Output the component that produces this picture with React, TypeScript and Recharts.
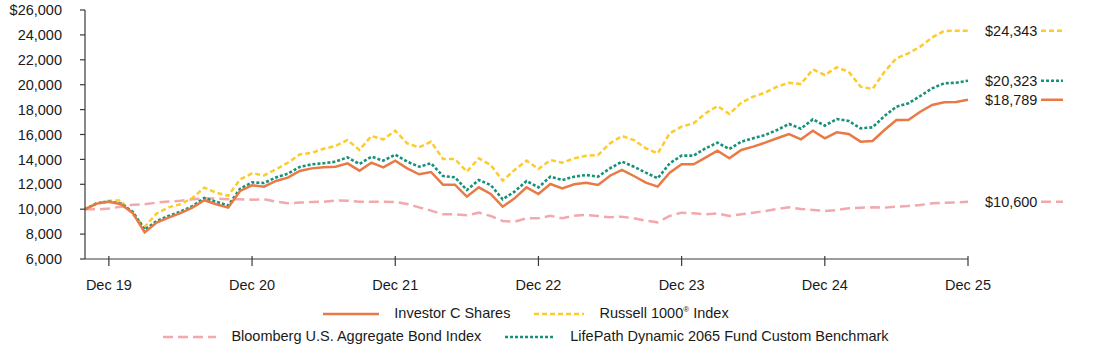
import { LineChart, Line, XAxis, YAxis, Legend } from "recharts";

const monthNames = ["Jan", "Feb", "Mar", "Apr", "May", "Jun", "Jul", "Aug", "Sep", "Oct", "Nov", "Dec"];

// Oct 19 .. Dec 25, monthly
const periods: string[] = [];
for (let i = 0; i < 75; i++) {
  periods.push(`${monthNames[(9 + i) % 12]} ${19 + Math.floor((9 + i) / 12)}`);
}

const tickLabels = ["Dec 19", "Dec 20", "Dec 21", "Dec 22", "Dec 23", "Dec 24", "Dec 25"];
const yTicks = [6000, 8000, 10000, 12000, 14000, 16000, 18000, 20000, 22000, 24000, 26000];

const investorC = [
  10000, 10450, 10600, 10400, 9700, 8130, 8930, 9330, 9680, 10130, 10720, 10400, 10130, 11470, 11920,
  11810, 12270, 12530, 13070, 13280, 13360, 13415, 13683, 13095, 13736, 13365, 13898, 13285, 12803, 12988,
  11970, 11970, 11006, 11757, 11221, 10203, 10873, 11757, 11221, 12024, 11676, 11997, 12130, 11944, 12690,
  13149, 12667, 12130, 11810, 12934, 13603, 13603, 14138, 14700, 14085, 14754, 15022, 15342, 15696, 16040,
  15610, 16309, 15696, 16178, 16040, 15424, 15478, 16361, 17165, 17165, 17830, 18370, 18584, 18610, 18789,
];

const russell1000 = [
  10000, 10480, 10680, 10700, 9600, 8590, 9650, 10150, 10400, 10900, 11730, 11330, 11070, 12400, 12880,
  12720, 13200, 13730, 14400, 14530, 14850, 15076, 15558, 14755, 15879, 15610, 16306, 15290, 14970, 15424,
  14032, 14032, 13015, 14085, 13550, 12290, 13150, 13900, 13229, 13952, 13736, 14085, 14300, 14353, 15290,
  15880, 15558, 14888, 14487, 16095, 16630, 16897, 17700, 18289, 17646, 18556, 19038, 19360, 19840, 20161,
  20056, 21236, 20779, 21397, 21045, 19840, 19654, 21045, 22120, 22522, 23053, 23806, 24313, 24340, 24343,
];

const bloombergAgg = [
  10000, 9990, 10050, 10200, 10350, 10400, 10530, 10620, 10670, 10800, 10880, 10850, 10800, 10800, 10760,
  10800, 10610, 10480, 10530, 10580, 10600, 10700, 10685, 10605, 10605, 10605, 10580, 10417, 10150, 9882,
  9590, 9590, 9510, 9722, 9454, 9052, 8998, 9267, 9267, 9480, 9267, 9480, 9534, 9454, 9347,
  9400, 9267, 9079, 8945, 9454, 9722, 9668, 9588, 9668, 9454, 9588, 9722, 9855, 10016, 10150,
  10016, 9936, 9855, 9936, 10070, 10123, 10150, 10123, 10203, 10257, 10337, 10471, 10525, 10550, 10600,
];

const lifePath2065 = [
  10000, 10480, 10620, 10450, 9800, 8350, 9050, 9450, 9800, 10250, 10900, 10600, 10300, 11650, 12150,
  12100, 12550, 12850, 13400, 13600, 13690, 13817, 14165, 13630, 14219, 13898, 14380, 13817, 13415, 13683,
  12667, 12560, 11542, 12345, 11944, 10793, 11408, 12265, 11757, 12613, 12345, 12613, 12747, 12613, 13285,
  13817, 13415, 12934, 12480, 13683, 14300, 14300, 14888, 15342, 14835, 15424, 15696, 15960, 16361, 16843,
  16470, 17220, 16710, 17245, 17085, 16496, 16575, 17486, 18235, 18504, 19092, 19710, 20110, 20160, 20323,
];

const data = periods.map((month, i) => ({
  month,
  investorC: investorC[i],
  russell: russell1000[i],
  agg: bloombergAgg[i],
  lifePath: lifePath2065[i],
}));

const FONT = "Arial, 'Liberation Sans', sans-serif";
const FS = 14.5;
const TEXT = "#1a1a1a";
const AXIS = "#3a3a3a";

const series = [
  { key: "investorC", name: "Investor C Shares", color: "#e97a45", dash: undefined as string | undefined, width: 2.5 },
  { key: "russell", name: "Russell 1000", sup: "®", suffix: " Index", color: "#fdcb2b", dash: "5 3", width: 2.5 },
  { key: "agg", name: "Bloomberg U.S. Aggregate Bond Index", color: "#f2a9ac", dash: "10 5", width: 2.5 },
  { key: "lifePath", name: "LifePath Dynamic 2065 Fund Custom Benchmark", color: "#17917a", dash: "3 2", width: 2.6 },
];

const fmt = (v: number) => v.toLocaleString("en-US");

const XTick = (props: any) => {
  const { x, y, payload } = props;
  return (
    <g>
      <line x1={x} x2={x} y1={y - 3} y2={y + 7} stroke={AXIS} strokeWidth={1.2} />
      <text x={x} y={y + 31} textAnchor="middle" fontSize={FS} fill={TEXT} fontFamily={FONT}>
        {payload.value}
      </text>
    </g>
  );
};

const endLabel = (s: (typeof series)[number]) => (props: any) => {
  const { x, y, index, value } = props;
  if (index !== data.length - 1) return null;
  return (
    <g>
      <text x={x + 17} y={y} dy="0.36em" fontSize={FS} fill={TEXT} fontFamily={FONT}>
        ${fmt(value)}
      </text>
      <line
        x1={x + 73}
        x2={x + 95}
        y1={y}
        y2={y}
        stroke={s.color}
        strokeWidth={s.width}
        strokeDasharray={s.dash}
      />
    </g>
  );
};

const Swatch = ({ s, w }: { s: (typeof series)[number]; w: number }) => (
  <svg width={w} height={10} style={{ display: "block" }}>
    <line x1={0} x2={w} y1={5} y2={5} stroke={s.color} strokeWidth={s.width} strokeDasharray={s.dash} />
  </svg>
);

const LegendItem = ({ s, w }: { s: (typeof series)[number]; w: number }) => (
  <div style={{ display: "flex", alignItems: "center", gap: 15 }}>
    <Swatch s={s} w={w} />
    <span>
      {s.name}
      {s.sup && <sup style={{ fontSize: 8, verticalAlign: 6, lineHeight: 0 }}>{s.sup}</sup>}
      {s.suffix}
    </span>
  </div>
);

const renderLegend = () => (
  <div style={{ fontFamily: FONT, fontSize: FS, color: TEXT, lineHeight: "23px" }}>
    <div style={{ display: "flex", justifyContent: "center", gap: 24 }}>
      <LegendItem s={series[0]} w={56} />
      <LegendItem s={series[1]} w={50} />
    </div>
    <div style={{ display: "flex", justifyContent: "center", gap: 24 }}>
      <LegendItem s={series[2]} w={53} />
      <LegendItem s={series[3]} w={50} />
    </div>
  </div>
);

export default function App() {
  const drawOrder = [series[2], series[1], series[3], series[0]];
  return (
    <div>
      <style>{`body{margin:0}`}</style>
      <LineChart width={1094} height={349} data={data} margin={{ top: 10, right: 126, bottom: 50, left: 0 }}>
        <XAxis
          dataKey="month"
          ticks={tickLabels}
          interval={0}
          tickSize={0}
          tickMargin={0}
          tickLine={false}
          height={40}
          axisLine={{ stroke: AXIS, strokeWidth: 1.2 }}
          tick={<XTick />}
        />
        <YAxis
          domain={[6000, 26000]}
          ticks={yTicks}
          width={85}
          tickSize={5}
          tickMargin={18}
          axisLine={{ stroke: AXIS, strokeWidth: 1.2 }}
          tickLine={{ stroke: AXIS, strokeWidth: 1.2 }}
          tick={{ fontSize: FS, fill: TEXT, fontFamily: FONT }}
          tickFormatter={(v: number) => (v === 26000 ? `$${fmt(v)}` : fmt(v))}
        />
        <Legend
          verticalAlign="middle"
          align="center"
          content={renderLegend}
          wrapperStyle={{ top: 302, left: 0, width: 1052 }}
        />
        {drawOrder.map((s) => (
          <Line
            key={s.key}
            dataKey={s.key}
            type="linear"
            stroke={s.color}
            strokeWidth={s.width}
            strokeDasharray={s.dash}
            dot={false}
            activeDot={false}
            isAnimationActive={false}
            label={endLabel(s)}
          />
        ))}
      </LineChart>
    </div>
  );
}
